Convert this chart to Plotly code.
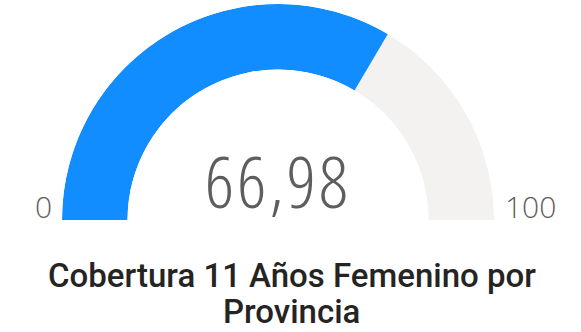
import plotly.graph_objects as go

# Gauge data
gauge_min = 0
gauge_max = 100
value = 66.98
title_lines = ["Cobertura 11 Años Femenino por", "Provincia"]

BLUE = "#118DFF"
TRACK = "#F3F2F1"
LABEL = "#605E5C"
TITLE = "#252423"

W, H = 581, 332

span = gauge_max - gauge_min
frac = (value - gauge_min) / span
filled_deg = frac * 180.0
rest_deg = 180.0 - filled_deg

fig = go.Figure()

# Track (remaining part of the half ring)
fig.add_trace(go.Barpolar(
    r=[1], theta=[filled_deg + rest_deg / 2], width=[rest_deg],
    marker=dict(color=TRACK, line=dict(width=0)),
    hoverinfo="skip", showlegend=False,
))
# Filled value arc
fig.add_trace(go.Barpolar(
    r=[1], theta=[filled_deg / 2], width=[filled_deg],
    marker=dict(color=BLUE, line=dict(width=0)),
    hoverinfo="skip", showlegend=False,
))

cx, cy, R, R_in = 278.0, 220.0, 216.0, 150.5
fig.update_layout(
    width=W, height=H,
    margin=dict(l=0, r=0, t=0, b=0),
    paper_bgcolor="white", plot_bgcolor="white",
    polar=dict(
        domain=dict(x=[(cx - R) / W, (cx + R) / W],
                    y=[(H - cy) / H, (H - cy + R) / H]),
        sector=[0, 180],
        hole=R_in / R,
        bgcolor="white",
        radialaxis=dict(range=[0, 1], visible=False, showgrid=False),
        angularaxis=dict(visible=False, showgrid=False, direction="clockwise",
                         rotation=180),
        barmode="overlay",
    ),
)


def py(px):
    return (H - px) / H


value_text = f"{value:.2f}".replace(".", ",")
fig.add_annotation(
    x=277.5 / W, y=py(231), xref="paper", yref="paper",
    xanchor="center", yanchor="bottom", showarrow=False,
    text=value_text, name="callout",
    font=dict(family="Open Sans", size=72, color=LABEL, weight=300),
)
fig.add_annotation(
    x=43.3 / W, y=py(229.5), xref="paper", yref="paper",
    xanchor="center", yanchor="bottom", showarrow=False,
    text=str(gauge_min),
    font=dict(family="Open Sans", size=30, color=LABEL, weight=300),
)
fig.add_annotation(
    x=530 / W, y=py(229.5), xref="paper", yref="paper",
    xanchor="center", yanchor="bottom", showarrow=False,
    text=str(gauge_max),
    font=dict(family="Open Sans", size=30, color=LABEL, weight=300),
)
for line, top, xc in zip(title_lines, [253.5, 290.0], [291.5, 291.0]):
    fig.add_annotation(
        x=xc / W, y=py(top), xref="paper", yref="paper",
        xanchor="center", yanchor="top", showarrow=False,
        text=line,
        font=dict(family="Roboto", size=33, color=TITLE, weight=500),
    )

# Big callout number: condensed Open Sans, slightly tracked out
post = """
document.querySelectorAll('.annotation-text').forEach(function (t) {
  if (t.textContent.indexOf(',') >= 0) {
    t.style.fontStretch = '75%';
    t.style.letterSpacing = '3px';
  }
});
"""
fig.write_html("out.html", post_script=post)
